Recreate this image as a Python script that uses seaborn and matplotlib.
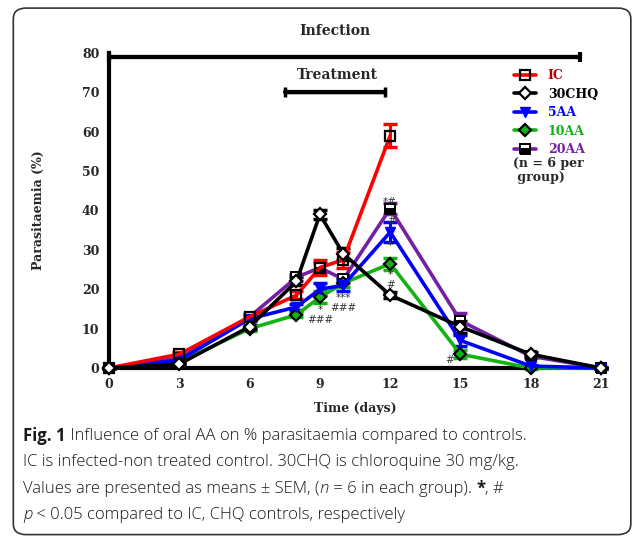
import matplotlib
matplotlib.use('Agg')
import matplotlib.pyplot as plt
from matplotlib.patches import FancyBboxPatch
import seaborn as sns
import numpy as np

# data (% parasitaemia, mean and SEM)
days = [0, 3, 6, 8, 9, 10, 12, 15, 18, 21]
groups = ["IC", "30CHQ", "5AA", "10AA", "20AA"]
ic_mean = [0, 3.5, 13, 18.5, 25.5, 27.5, 59, np.nan, np.nan, np.nan]
ic_sem = [0, 0.5, 0.6, 1.0, 2.0, 2.0, 3.0, np.nan, np.nan, np.nan]
chq_mean = [0, 1, 10.5, 22, 39, 29, 18.5, 10.5, 3.5, 0]
chq_sem = [0, 0.3, 0.5, 1.0, 1.2, 1.5, 0.7, 1.5, 0.5, 0]
aa5_mean = [0, 2, 12.5, 15.5, 20, 21, 34.5, 7, 0.5, 0]
aa5_sem = [0, 0.3, 0.5, 0.8, 1.5, 1.5, 2.5, 1.5, 0.3, 0]
aa10_mean = [0, 1.5, 10, 13.5, 18, 21.5, 26.5, 3.5, 0, 0]
aa10_sem = [0, 0.3, 0.5, 0.5, 1.5, 1.0, 1.5, 1.0, 0.2, 0]
aa20_mean = [0, 2.5, 13, 23, 25.5, 22.5, 40.5, 12, 3, 0]
aa20_sem = [0, 0.3, 0.8, 0.8, 1.2, 1.0, 1.5, 2.0, 0.5, 0.3]

# significance marks: (label, day, top value)
sig_marks = [("*#", 12, 43.3), ("#", 12.05, 38.6), ("*", 12, 32.2), ("*\n#", 12, 24.8),
             ("*\n###", 9, 16.0), ("***\n###", 10, 19.0), ("#", 14.55, 3.2)]

infection_span = (0, 20.1, 79)
treatment_span = (7.5, 11.8, 70)

sns.set_style("white")
serif = "DejaVu Serif"

fig = plt.figure(figsize=(6.34, 5.4), dpi=100)
ax = fig.add_axes([0.172, 0.3185, 0.776, 0.5834])

styles = {
    "IC": dict(color="#ff0000", marker="s", mfc="none", mec="black", mew=1.6, label_color="#c00000"),
    "30CHQ": dict(color="black", marker="D", mfc="white", mec="black", mew=1.6, label_color="black"),
    "5AA": dict(color="#0000ff", marker="v", mfc="#0000ff", mec="#0000ff", mew=1.0, label_color="#0000ff"),
    "10AA": dict(color="#12b312", marker="D", mfc="#12b312", mec="black", mew=1.6, label_color="#12b312"),
    "20AA": dict(color="#7420a0", marker="s", mfc="black", mec="black", mew=1.4, label_color="#7420a0"),
}
series = {"IC": (ic_mean, ic_sem), "30CHQ": (chq_mean, chq_sem), "5AA": (aa5_mean, aa5_sem),
          "10AA": (aa10_mean, aa10_sem), "20AA": (aa20_mean, aa20_sem)}

handles = {}
for g in ["20AA", "10AA", "5AA", "IC", "30CHQ"]:
    m, s = series[g]
    st = styles[g]
    ax.errorbar(days, m, yerr=s, fmt="none", ecolor=st["color"], elinewidth=2.2,
                capsize=5, capthick=2.5, clip_on=False, zorder=2)
    extra = {}
    if g == "20AA":
        extra = dict(fillstyle="bottom", markerfacecoloralt="white")
    sns.lineplot(x=days, y=m, color=st["color"], linewidth=2.6, marker=st["marker"],
                 markersize=6.5, markerfacecolor=st["mfc"], markeredgecolor=st["mec"],
                 markeredgewidth=st["mew"], ax=ax, clip_on=False, zorder=3, **extra)
    handles[g] = ax.lines[-1]

for lab, d, v in sig_marks:
    ax.text(d, v, lab, ha="center", va="top", fontsize=7.5, color="#333333",
            linespacing=0.95)

# infection / treatment bars
x0, x1, yv = infection_span
ax.errorbar([x0, x1], [yv, yv], yerr=1.2, color="black", lw=3, capsize=0, clip_on=False)
ax.plot([x0, x1], [yv, yv], color="black", lw=3, clip_on=False)
x0, x1, yv = treatment_span
ax.errorbar([x0, x1], [yv, yv], yerr=1.3, color="black", lw=2.5, clip_on=False)
ax.plot([x0, x1], [yv, yv], color="black", lw=3, clip_on=False)
ax.text(9.65, 85.5, "Infection", ha="center", va="center", family=serif,
        fontweight="bold", fontsize=10)
ax.text(9.75, 74.5, "Treatment", ha="center", va="center", family=serif,
        fontweight="bold", fontsize=10)

ax.set_xlim(0, 21)
ax.set_ylim(0, 80)
ax.set_xticks(days[:3] + [9, 12, 15, 18, 21])
ax.set_yticks(range(0, 90, 10))
for sp in ["top", "right"]:
    ax.spines[sp].set_visible(False)
for sp in ["left", "bottom"]:
    ax.spines[sp].set_linewidth(3)
    ax.spines[sp].set_color("black")
ax.tick_params(axis="both", length=5, width=2.5, color="black", labelsize=9, pad=2)
for lbl in ax.get_xticklabels() + ax.get_yticklabels():
    lbl.set_family(serif)
    lbl.set_fontweight("bold")
ax.set_xlabel("Time (days)", family=serif, fontweight="bold", fontsize=9, labelpad=8)
ax.set_ylabel("Parasitaemia (%)", family=serif, fontweight="bold", fontsize=9)
ax.yaxis.set_label_coords(-0.13, 0.5)

leg = ax.legend([handles[g] for g in groups], groups, loc="upper left",
                bbox_to_anchor=(0.80, 0.985), frameon=False, handlelength=1.8,
                handletextpad=0.9, labelspacing=0.45,
                prop=dict(family=serif, weight="bold", size=9))
for txt, g in zip(leg.get_texts(), groups):
    txt.set_color(styles[g]["label_color"])
fig.text(513 / 634, 1 - 157 / 540, "(n = 6 per\n group)", family=serif, fontweight="bold",
         fontsize=9, va="top", linespacing=1.15)

# rounded border around the whole panel
fig.patches.append(FancyBboxPatch((0.021, 0.01), 0.974, 0.975,
                                  boxstyle="round,pad=0,rounding_size=0.02",
                                  transform=fig.transFigure, fill=False,
                                  edgecolor="#333333", lw=1.2))

# caption, written piece by piece so the bold and italic parts fit in
cap_font = "Open Sans"
caption = [
    [("Fig. 1", "bold", "normal"), (" Influence of oral AA on % parasitaemia compared to controls.", "light", "normal")],
    [("IC is infected-non treated control. 30CHQ is chloroquine 30 mg/kg.", "light", "normal")],
    [("Values are presented as means \u00b1 SEM, (", "light", "normal"), ("n", "light", "italic"),
     (" = 6 in each group). ", "light", "normal"), ("*", "bold", "normal"), (", #", "light", "normal")],
    [("p", "light", "italic"), (" < 0.05 compared to IC, CHQ controls, respectively", "light", "normal")],
]
renderer = fig.canvas.get_renderer()
y = 1 - 436 / 540
for line in caption:
    x = 23 / 634
    for txt, wt, sty in line:
        t = fig.text(x, y, txt, family=cap_font, fontweight=wt, fontstyle=sty,
                     fontsize=12, color="#1a1a1a", va="center")
        bb = t.get_window_extent(renderer)
        x += bb.width / fig.bbox.width
    y -= 26.3 / 540

fig.savefig("out.png", dpi=100)
